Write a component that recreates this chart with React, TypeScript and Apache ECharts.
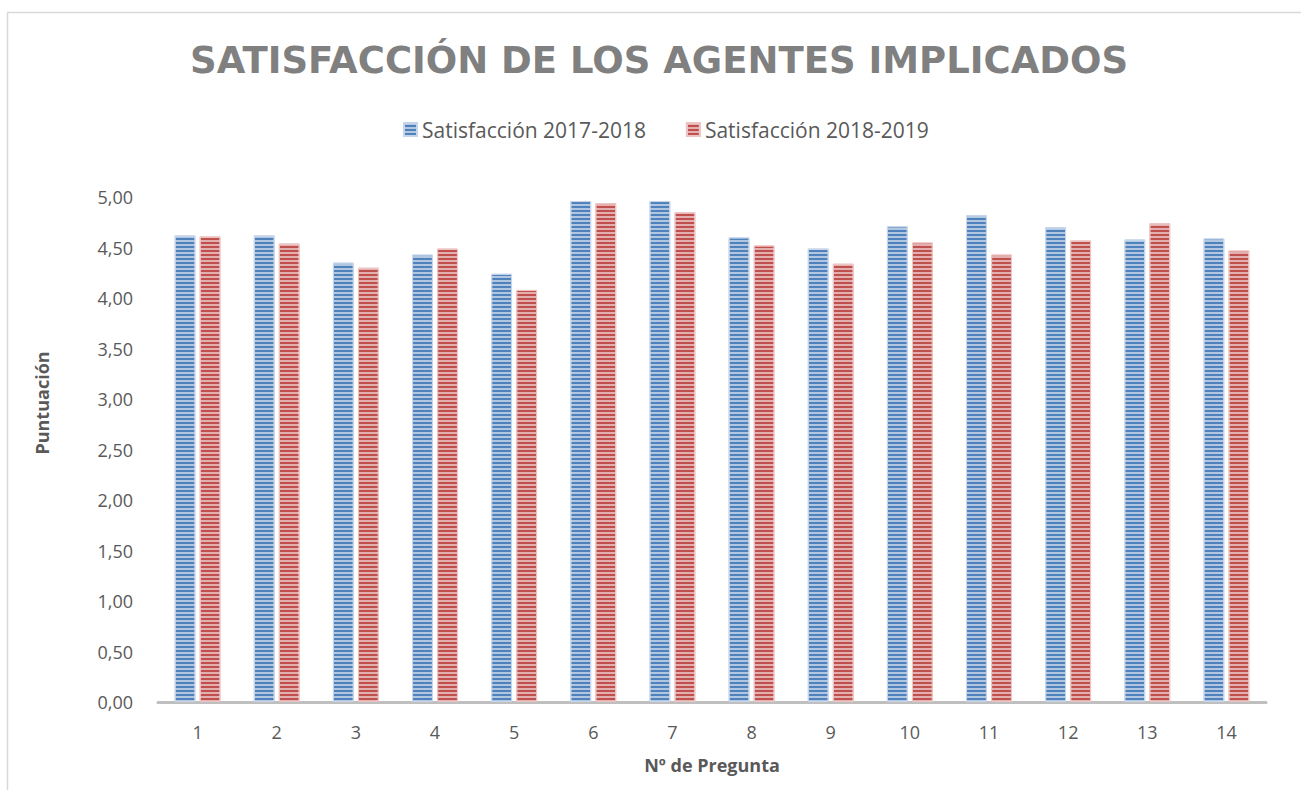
import React, { useEffect, useRef } from "react";
import * as echarts from "echarts";

const categories = ["1", "2", "3", "4", "5", "6", "7", "8", "9", "10", "11", "12", "13", "14"];
const series2017 = [4.62, 4.62, 4.35, 4.43, 4.24, 4.96, 4.96, 4.60, 4.49, 4.71, 4.82, 4.70, 4.58, 4.59];
const series2018 = [4.61, 4.54, 4.30, 4.49, 4.08, 4.94, 4.85, 4.52, 4.34, 4.55, 4.43, 4.57, 4.74, 4.47];
const seriesNames = ["Satisfacción 2017-2018", "Satisfacción 2018-2019"];
const titleText = "SATISFACCIÓN DE LOS AGENTES IMPLICADOS";
const yAxisName = "Puntuación";
const xAxisName = "Nº de Pregunta";

const FONT = "'Open Sans', 'DejaVu Sans', sans-serif";

export default function App() {
  const ref = useRef<HTMLDivElement>(null);
  useEffect(() => {
    if (!ref.current) return;
    const chart = echarts.init(ref.current, null, { renderer: "svg" });
    const decal = {
      symbol: "rect",
      symbolSize: 1,
      dashArrayX: [1, 0],
      dashArrayY: [2, 2],
      rotation: 0,
      color: "rgba(255,255,255,0.55)",
    };
    chart.setOption({
      animation: false,
      backgroundColor: "#ffffff",
      title: {
        text: titleText,
        left: 185,
        top: 37,
        textStyle: {
          fontFamily: "'DejaVu Sans', sans-serif",
          fontWeight: "bold",
          fontSize: 37,
          color: "#808080",
        },
      },
      legend: {
        top: 114,
        left: 398,
        icon: "rect",
        itemWidth: 13,
        itemHeight: 13,
        itemGap: 40,
        textStyle: { fontFamily: FONT, fontSize: 21, color: "#595959" },
        data: seriesNames,
      },
      grid: { left: 158, right: 35, top: 197, bottom: 88, containLabel: false },
      xAxis: {
        type: "category",
        data: categories,
        name: xAxisName,
        nameLocation: "middle",
        nameGap: 54,
        nameTextStyle: { fontFamily: FONT, fontSize: 18, fontWeight: "bold", color: "#595959" },
        axisLine: { lineStyle: { color: "#bfbfbf", width: 3 } },
        axisTick: { show: false },
        axisLabel: { fontFamily: FONT, fontSize: 18, color: "#595959", margin: 21 },
      },
      yAxis: {
        type: "value",
        min: 0,
        max: 5,
        interval: 0.5,
        splitLine: { show: false },
        axisLine: { show: false },
        axisTick: { show: false },
        axisLabel: {
          fontFamily: FONT,
          fontSize: 18,
          color: "#595959",
          margin: 25,
          formatter: (v: number) => v.toFixed(2).replace(".", ","),
        },
      },
      graphic: [
        {
          type: "rect",
          shape: { x: 7.5, y: 12.5, width: 1400, height: 900 },
          style: { fill: "none", stroke: "#d9d9d9", lineWidth: 1.5 },
          silent: true,
        },
        {
          type: "text",
          x: 42,
          y: 403,
          rotation: Math.PI / 2,
          style: {
            text: yAxisName,
            fontFamily: FONT,
            fontSize: 18,
            fontWeight: "bold",
            fill: "#595959",
            align: "center",
            verticalAlign: "middle",
          },
        },
      ],
      series: [
        {
          name: seriesNames[0],
          type: "bar",
          data: series2017,
          barGap: "20%",
          barCategoryGap: "42%",
          itemStyle: {
            color: "#4f81bd",
            borderColor: "#c6d5ea",
            borderWidth: 1,
            decal,
          },
        },
        {
          name: seriesNames[1],
          type: "bar",
          data: series2018,
          barGap: "20%",
          barCategoryGap: "42%",
          itemStyle: {
            color: "#c0504d",
            borderColor: "#ecc4c3",
            borderWidth: 1,
            decal,
          },
        },
      ],
    });
    return () => chart.dispose();
  }, []);
  return (
    <div
      ref={ref}
      style={{ position: "fixed", left: 0, top: 0, width: 1301, height: 790 }}
    />
  );
}
